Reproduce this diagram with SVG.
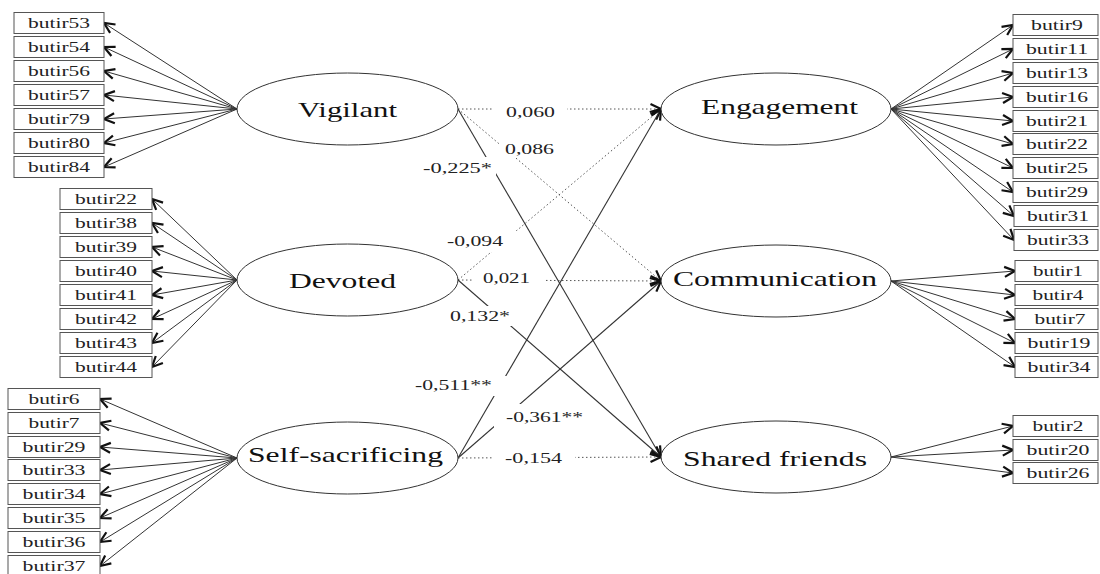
<svg xmlns="http://www.w3.org/2000/svg" width="1100" height="574" viewBox="0 0 1100 574">
<defs>
<marker id="ah" markerUnits="userSpaceOnUse" markerWidth="16" markerHeight="14" refX="12" refY="7" orient="auto">
<path d="M1.5,2 L12,7 L1.5,12" fill="none" stroke="#111" stroke-width="2.2" stroke-linejoin="miter"/>
</marker>
<style>
.box{fill:#fff;stroke:#555;stroke-width:1}
.bt{font-family:"Liberation Serif",serif;font-size:14px;fill:#222;text-anchor:middle}
.ell{fill:#fff;stroke:#333;stroke-width:1}
.et{font-family:"Liberation Serif",serif;font-size:21px;fill:#111;text-anchor:middle}
.ld{stroke:#333;stroke-width:1;fill:none;marker-end:url(#ah)}
.sol{stroke:#333;stroke-width:1.1;fill:none;marker-end:url(#ah)}
.dot{stroke:#555;stroke-width:1;stroke-dasharray:1.5 2.5;fill:none;marker-end:url(#ah)}
.lb{fill:#fff;stroke:none}
.lt{font-family:"Liberation Serif",serif;font-size:15px;fill:#222}
</style>
</defs>
<rect width="1100" height="574" fill="#fff"/>

<g id="connectors">
<path class="ld" d="M237,109 L104,23"/>
<path class="ld" d="M237,109 L104,47"/>
<path class="ld" d="M237,109 L104,71"/>
<path class="ld" d="M237,109 L104,95"/>
<path class="ld" d="M237,109 L104,119"/>
<path class="ld" d="M237,109 L104,143"/>
<path class="ld" d="M237,109 L104,167"/>
<path class="ld" d="M237,280 L152,199"/>
<path class="ld" d="M237,280 L152,223"/>
<path class="ld" d="M237,280 L152,247"/>
<path class="ld" d="M237,280 L152,271"/>
<path class="ld" d="M237,280 L152,295"/>
<path class="ld" d="M237,280 L152,319"/>
<path class="ld" d="M237,280 L152,343"/>
<path class="ld" d="M237,280 L152,367"/>
<path class="ld" d="M237,458 L100,399"/>
<path class="ld" d="M237,458 L100,423"/>
<path class="ld" d="M237,458 L100,447"/>
<path class="ld" d="M237,458 L100,470"/>
<path class="ld" d="M237,458 L100,494"/>
<path class="ld" d="M237,458 L100,518"/>
<path class="ld" d="M237,458 L100,542"/>
<path class="ld" d="M237,458 L100,566"/>
<path class="ld" d="M891,109 L1013,25"/>
<path class="ld" d="M891,109 L1013,49"/>
<path class="ld" d="M891,109 L1013,73"/>
<path class="ld" d="M891,109 L1013,97"/>
<path class="ld" d="M891,109 L1013,121"/>
<path class="ld" d="M891,109 L1013,144"/>
<path class="ld" d="M891,109 L1013,168"/>
<path class="ld" d="M891,109 L1013,192"/>
<path class="ld" d="M891,109 L1014,216"/>
<path class="ld" d="M891,109 L1014,240"/>
<path class="ld" d="M891,281 L1015,271"/>
<path class="ld" d="M891,281 L1015,295"/>
<path class="ld" d="M891,281 L1015,319"/>
<path class="ld" d="M891,281 L1015,343"/>
<path class="ld" d="M891,281 L1015,367"/>
<path class="ld" d="M891,457 L1013,426"/>
<path class="ld" d="M891,457 L1013,450"/>
<path class="ld" d="M891,457 L1013,473"/>

<path class="dot" d="M458,109 L661,109"/>
<path class="dot" d="M458,109 L661,281"/>
<path class="sol" d="M458,109 L661,457"/>
<path class="dot" d="M458,280 L661,109"/>
<path class="dot" d="M458,280 L661,281"/>
<path class="sol" d="M458,280 L661,457"/>
<path class="sol" d="M458,458 L661,109"/>
<path class="sol" d="M458,458 L661,281"/>
<path class="dot" d="M458,458 L661,457"/>

<rect class="lb" x="493" y="103" width="74" height="19"/>
<text class="lt" x="506" y="117" textLength="49" lengthAdjust="spacingAndGlyphs">0,060</text>
<rect class="lb" x="499" y="141" width="59" height="17"/>
<text class="lt" x="505" y="154" textLength="49" lengthAdjust="spacingAndGlyphs">0,086</text>
<rect class="lb" x="419" y="157" width="77" height="21"/>
<text class="lt" x="423" y="173" textLength="69" lengthAdjust="spacingAndGlyphs">-0,225*</text>
<rect class="lb" x="444" y="231" width="73" height="21"/>
<text class="lt" x="447" y="246" textLength="56" lengthAdjust="spacingAndGlyphs">-0,094</text>
<rect class="lb" x="472" y="271" width="73" height="18"/>
<text class="lt" x="483" y="283" textLength="47" lengthAdjust="spacingAndGlyphs">0,021</text>
<rect class="lb" x="446" y="306" width="68" height="20"/>
<text class="lt" x="450" y="321" textLength="60" lengthAdjust="spacingAndGlyphs">0,132*</text>
<rect class="lb" x="411" y="376" width="97" height="20"/>
<text class="lt" x="415" y="390" textLength="77" lengthAdjust="spacingAndGlyphs">-0,511**</text>
<rect class="lb" x="494" y="404" width="94" height="24"/>
<text class="lt" x="506" y="422" textLength="77" lengthAdjust="spacingAndGlyphs">-0,361**</text>
<rect class="lb" x="493" y="450" width="82" height="17"/>
<text class="lt" x="505" y="463" textLength="57" lengthAdjust="spacingAndGlyphs">-0,154</text>
</g>

<g id="vigilant"><ellipse class="ell" cx="347.5" cy="109" rx="110.5" ry="36"/><text class="et" x="347.5" y="117" textLength="99" lengthAdjust="spacingAndGlyphs">Vigilant</text></g>
<g id="devoted"><ellipse class="ell" cx="347.5" cy="280" rx="110.5" ry="36"/><text class="et" x="342.5" y="288" textLength="107" lengthAdjust="spacingAndGlyphs">Devoted</text></g>
<g id="self-sacrificing"><ellipse class="ell" cx="347.5" cy="458" rx="110.5" ry="36"/><text class="et" x="345.5" y="462" textLength="195" lengthAdjust="spacingAndGlyphs">Self-sacrificing</text></g>
<g id="engagement"><ellipse class="ell" cx="776" cy="109" rx="115" ry="36"/><text class="et" x="779.5" y="114" textLength="157" lengthAdjust="spacingAndGlyphs">Engagement</text></g>
<g id="communication"><ellipse class="ell" cx="776" cy="281" rx="115" ry="36"/><text class="et" x="775" y="286" textLength="204" lengthAdjust="spacingAndGlyphs">Communication</text></g>
<g id="shared-friends"><ellipse class="ell" cx="776" cy="457" rx="115" ry="36"/><text class="et" x="775" y="466" textLength="184" lengthAdjust="spacingAndGlyphs">Shared friends</text></g>

<g id="v-butir53"><rect class="box" x="14" y="12.5" width="90" height="21"/><text class="bt" x="59" y="28" textLength="62" lengthAdjust="spacingAndGlyphs">butir53</text></g>
<g id="v-butir54"><rect class="box" x="14" y="36.5" width="90" height="21"/><text class="bt" x="59" y="52" textLength="62" lengthAdjust="spacingAndGlyphs">butir54</text></g>
<g id="v-butir56"><rect class="box" x="14" y="60.5" width="90" height="21"/><text class="bt" x="59" y="76" textLength="62" lengthAdjust="spacingAndGlyphs">butir56</text></g>
<g id="v-butir57"><rect class="box" x="14" y="84.5" width="90" height="21"/><text class="bt" x="59" y="100" textLength="62" lengthAdjust="spacingAndGlyphs">butir57</text></g>
<g id="v-butir79"><rect class="box" x="14" y="108.5" width="90" height="21"/><text class="bt" x="59" y="124" textLength="62" lengthAdjust="spacingAndGlyphs">butir79</text></g>
<g id="v-butir80"><rect class="box" x="14" y="132.5" width="90" height="21"/><text class="bt" x="59" y="148" textLength="62" lengthAdjust="spacingAndGlyphs">butir80</text></g>
<g id="v-butir84"><rect class="box" x="14" y="156.5" width="90" height="21"/><text class="bt" x="59" y="172" textLength="62" lengthAdjust="spacingAndGlyphs">butir84</text></g>

<g id="d-butir22"><rect class="box" x="60" y="188.5" width="92" height="21"/><text class="bt" x="106" y="204" textLength="62" lengthAdjust="spacingAndGlyphs">butir22</text></g>
<g id="d-butir38"><rect class="box" x="60" y="212.5" width="92" height="21"/><text class="bt" x="106" y="228" textLength="62" lengthAdjust="spacingAndGlyphs">butir38</text></g>
<g id="d-butir39"><rect class="box" x="60" y="236.5" width="92" height="21"/><text class="bt" x="106" y="252" textLength="62" lengthAdjust="spacingAndGlyphs">butir39</text></g>
<g id="d-butir40"><rect class="box" x="60" y="260.5" width="92" height="21"/><text class="bt" x="106" y="276" textLength="62" lengthAdjust="spacingAndGlyphs">butir40</text></g>
<g id="d-butir41"><rect class="box" x="60" y="284.5" width="92" height="21"/><text class="bt" x="106" y="300" textLength="62" lengthAdjust="spacingAndGlyphs">butir41</text></g>
<g id="d-butir42"><rect class="box" x="60" y="308.5" width="92" height="21"/><text class="bt" x="106" y="324" textLength="62" lengthAdjust="spacingAndGlyphs">butir42</text></g>
<g id="d-butir43"><rect class="box" x="60" y="332.5" width="92" height="21"/><text class="bt" x="106" y="348" textLength="62" lengthAdjust="spacingAndGlyphs">butir43</text></g>
<g id="d-butir44"><rect class="box" x="60" y="356.5" width="92" height="21"/><text class="bt" x="106" y="372" textLength="62" lengthAdjust="spacingAndGlyphs">butir44</text></g>

<g id="s-butir6"><rect class="box" x="8" y="388.5" width="92" height="21"/><text class="bt" x="54" y="404" textLength="51" lengthAdjust="spacingAndGlyphs">butir6</text></g>
<g id="s-butir7"><rect class="box" x="8" y="412.5" width="92" height="21"/><text class="bt" x="54" y="428" textLength="51" lengthAdjust="spacingAndGlyphs">butir7</text></g>
<g id="s-butir29"><rect class="box" x="8" y="436.5" width="92" height="21"/><text class="bt" x="54" y="452" textLength="63" lengthAdjust="spacingAndGlyphs">butir29</text></g>
<g id="s-butir33"><rect class="box" x="8" y="459.5" width="92" height="21"/><text class="bt" x="54" y="475" textLength="63" lengthAdjust="spacingAndGlyphs">butir33</text></g>
<g id="s-butir34"><rect class="box" x="8" y="483.5" width="92" height="21"/><text class="bt" x="54" y="499" textLength="63" lengthAdjust="spacingAndGlyphs">butir34</text></g>
<g id="s-butir35"><rect class="box" x="8" y="507.5" width="92" height="21"/><text class="bt" x="54" y="523" textLength="63" lengthAdjust="spacingAndGlyphs">butir35</text></g>
<g id="s-butir36"><rect class="box" x="8" y="531.5" width="92" height="21"/><text class="bt" x="54" y="547" textLength="63" lengthAdjust="spacingAndGlyphs">butir36</text></g>
<g id="s-butir37"><rect class="box" x="8" y="555.5" width="92" height="21"/><text class="bt" x="54" y="571" textLength="63" lengthAdjust="spacingAndGlyphs">butir37</text></g>

<g id="e-butir9"><rect class="box" x="1013" y="14.5" width="85" height="21"/><text class="bt" x="1057" y="30" textLength="52" lengthAdjust="spacingAndGlyphs">butir9</text></g>
<g id="e-butir11"><rect class="box" x="1013" y="38.5" width="85" height="21"/><text class="bt" x="1057" y="54" textLength="62" lengthAdjust="spacingAndGlyphs">butir11</text></g>
<g id="e-butir13"><rect class="box" x="1013" y="62.5" width="85" height="21"/><text class="bt" x="1057" y="78" textLength="62" lengthAdjust="spacingAndGlyphs">butir13</text></g>
<g id="e-butir16"><rect class="box" x="1013" y="86.5" width="85" height="21"/><text class="bt" x="1057" y="102" textLength="62" lengthAdjust="spacingAndGlyphs">butir16</text></g>
<g id="e-butir21"><rect class="box" x="1013" y="110.5" width="85" height="21"/><text class="bt" x="1057" y="126" textLength="62" lengthAdjust="spacingAndGlyphs">butir21</text></g>
<g id="e-butir22"><rect class="box" x="1013" y="133.5" width="85" height="21"/><text class="bt" x="1057" y="149" textLength="62" lengthAdjust="spacingAndGlyphs">butir22</text></g>
<g id="e-butir25"><rect class="box" x="1013" y="157.5" width="85" height="21"/><text class="bt" x="1057" y="173" textLength="62" lengthAdjust="spacingAndGlyphs">butir25</text></g>
<g id="e-butir29"><rect class="box" x="1013" y="181.5" width="85" height="21"/><text class="bt" x="1057" y="197" textLength="62" lengthAdjust="spacingAndGlyphs">butir29</text></g>
<g id="e-butir31"><rect class="box" x="1014" y="205.5" width="84" height="21"/><text class="bt" x="1058" y="221" textLength="62" lengthAdjust="spacingAndGlyphs">butir31</text></g>
<g id="e-butir33"><rect class="box" x="1014" y="229.5" width="84" height="21"/><text class="bt" x="1058" y="245" textLength="62" lengthAdjust="spacingAndGlyphs">butir33</text></g>

<g id="c-butir1"><rect class="box" x="1015" y="260.5" width="83" height="21"/><text class="bt" x="1058" y="276" textLength="50" lengthAdjust="spacingAndGlyphs">butir1</text></g>
<g id="c-butir4"><rect class="box" x="1015" y="284.5" width="83" height="21"/><text class="bt" x="1058" y="300" textLength="51" lengthAdjust="spacingAndGlyphs">butir4</text></g>
<g id="c-butir7"><rect class="box" x="1015" y="308.5" width="83" height="21"/><text class="bt" x="1060" y="324" textLength="51" lengthAdjust="spacingAndGlyphs">butir7</text></g>
<g id="c-butir19"><rect class="box" x="1015" y="332.5" width="83" height="21"/><text class="bt" x="1059" y="348" textLength="63" lengthAdjust="spacingAndGlyphs">butir19</text></g>
<g id="c-butir34"><rect class="box" x="1015" y="356.5" width="83" height="21"/><text class="bt" x="1059" y="372" textLength="63" lengthAdjust="spacingAndGlyphs">butir34</text></g>

<g id="f-butir2"><rect class="box" x="1013" y="415.5" width="85" height="21"/><text class="bt" x="1058" y="431" textLength="51" lengthAdjust="spacingAndGlyphs">butir2</text></g>
<g id="f-butir20"><rect class="box" x="1013" y="439.5" width="85" height="21"/><text class="bt" x="1058" y="455" textLength="63" lengthAdjust="spacingAndGlyphs">butir20</text></g>
<g id="f-butir26"><rect class="box" x="1013" y="462.5" width="85" height="21"/><text class="bt" x="1058" y="478" textLength="63" lengthAdjust="spacingAndGlyphs">butir26</text></g>
</svg>
